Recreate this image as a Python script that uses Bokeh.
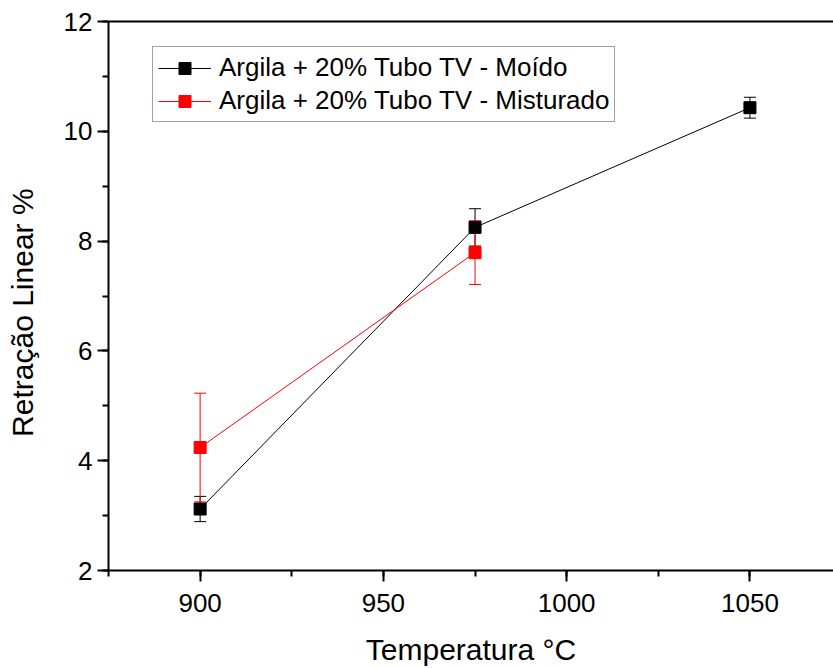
from bokeh.plotting import figure
from bokeh.models import (ColumnDataSource, Whisker, Legend, LegendItem, LinearAxis,
                          SingleIntervalTicker, FixedTicker, Range1d)
from bokeh.embed import file_html
from bokeh.resources import INLINE

# Data
temp_moido = [900, 975, 1050]
ret_moido = [3.12, 8.25, 10.43]
err_moido = [0.23, 0.34, 0.19]

temp_mist = [900, 975]
ret_mist = [4.24, 7.79]
err_mist = [0.99, 0.58]

label_moido = "Argila + 20% Tubo TV - Moído"
label_mist = "Argila + 20% Tubo TV - Misturado"
x_title = "Temperatura °C"
y_title = "Retração Linear %"

FONT = "Liberation Sans"

p = figure(width=833, height=668, output_backend="svg", toolbar_location=None,
           x_range=Range1d(875, 1072.8), y_range=Range1d(2, 12),
           min_border_left=108, min_border_top=21, min_border_right=0,
           min_border_bottom=98, x_axis_type=None, y_axis_type=None)
p.outline_line_color = None
p.grid.visible = False
p.background_fill_color = "white"
p.border_fill_color = "white"

def style_axis(ax, interval):
    ax.ticker = SingleIntervalTicker(interval=interval, num_minor_ticks=2)
    ax.axis_line_width = 2
    ax.axis_line_color = "black"
    ax.major_tick_line_width = 2
    ax.minor_tick_line_width = 2
    ax.major_tick_in = 0
    ax.minor_tick_in = 0
    ax.major_tick_out = 11
    ax.minor_tick_out = 6
    ax.major_label_text_font = FONT
    ax.major_label_text_font_size = "26px"
    ax.major_label_text_color = "black"
    ax.axis_label_text_font = FONT
    ax.axis_label_text_font_size = "30px"
    ax.axis_label_text_font_style = "normal"
    ax.axis_label_text_color = "black"

xa = LinearAxis(axis_label=x_title)
style_axis(xa, 50)
xa.major_label_standoff = 12
xa.axis_label_standoff = 18
p.add_layout(xa, "below")

# trailing no-break spaces shift the visible title a little below the centre,
# as in the original
ya = LinearAxis(axis_label=y_title + "\u00a0" * 4)
style_axis(ya, 2)
ya.major_label_standoff = 5
ya.axis_label_standoff = 22
p.add_layout(ya, "left")

top = LinearAxis(ticker=FixedTicker(ticks=[]), axis_line_width=2,
                 axis_line_color="black", major_tick_line_color=None,
                 minor_tick_line_color=None)
p.add_layout(top, "above")

src_m = ColumnDataSource(dict(x=temp_moido, y=ret_moido,
                              lo=[v - e for v, e in zip(ret_moido, err_moido)],
                              hi=[v + e for v, e in zip(ret_moido, err_moido)]))
src_r = ColumnDataSource(dict(x=temp_mist, y=ret_mist,
                              lo=[v - e for v, e in zip(ret_mist, err_mist)],
                              hi=[v + e for v, e in zip(ret_mist, err_mist)]))

wm = Whisker(source=src_m, base="x", upper="hi", lower="lo", line_color="black",
             line_width=1)
wm.upper_head.size = 12
wm.lower_head.size = 12
wm.upper_head.line_color = "black"
wm.lower_head.line_color = "black"
p.add_layout(wm)

lm = p.line("x", "y", source=src_m, line_color="black", line_width=1)

wr = Whisker(source=src_r, base="x", upper="hi", lower="lo", line_color="red",
             line_width=1)
wr.upper_head.size = 12
wr.lower_head.size = 12
wr.upper_head.line_color = "red"
wr.lower_head.line_color = "red"
p.add_layout(wr)

lr = p.line("x", "y", source=src_r, line_color="red", line_width=1)
sm = p.scatter("x", "y", source=src_m, marker="square", size=12,
               fill_color="black", line_color="black")
sr = p.scatter("x", "y", source=src_r, marker="square", size=12,
               fill_color="red", line_color="red")

legend = Legend(items=[LegendItem(label=label_moido, renderers=[lm, sm]),
                       LegendItem(label=label_mist, renderers=[lr, sr])],
                location=(44, 448))
legend.label_text_font = FONT
legend.label_text_font_size = "26px"
legend.label_text_color = "black"
legend.border_line_color = "#444444"
legend.border_line_width = 1.5
legend.background_fill_alpha = 1
legend.padding = 5
legend.margin = 0
legend.spacing = 2
legend.glyph_width = 53
legend.glyph_height = 30
legend.label_height = 30
legend.label_standoff = 8
p.add_layout(legend, "center")

open("out.html", "w").write(file_html(p, INLINE))
